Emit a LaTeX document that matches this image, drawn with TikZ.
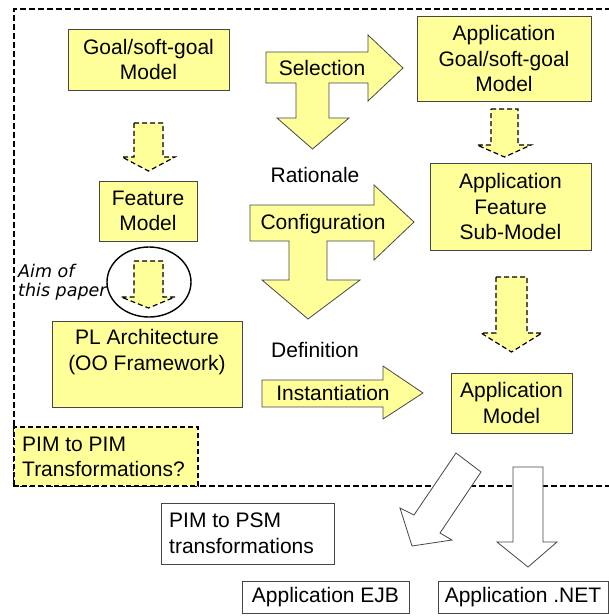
\documentclass[tikz,border=0pt]{standalone}
\usepackage{fontspec}
\setmainfont{Liberation Sans}
\newfontfamily\aimfont{DejaVu Sans}
\usetikzlibrary{shapes.geometric}
\definecolor{pale}{RGB}{255,255,153}
\definecolor{edge}{RGB}{70,70,70}
\begin{document}
\begin{tikzpicture}[x=1pt,y=-1pt, font=\fontsize{21}{25.5}\selectfont,
 ybox/.style={draw=edge, fill=pale, line width=0.9pt, inner sep=0pt, align=center},
 wbox/.style={draw=edge, fill=white, line width=0.9pt, inner sep=0pt, align=center},
 lbl/.style={inner sep=0pt, align=center},
 blockarrow/.style={draw=edge, fill=pale, line width=0.8pt, line join=miter},
 dasharrow/.style={draw=black, fill=pale, line width=1.2pt, dash pattern=on 5pt off 3pt},
 whitearrow/.style={draw=edge, fill=white, line width=0.8pt},
 framestyle/.style={draw=black, line width=1.3pt, dash pattern=on 6pt off 3pt},
 aim/.style={font=\aimfont\itshape\fontsize{17.5}{20}\selectfont, inner sep=0pt}]
\useasboundingbox (0,0) rectangle (609,616);

% outer dashed frame
\draw[framestyle] (620,486) -- (14,486) -- (14,9) -- (620,9);

% boxes
\node[ybox, minimum width=161pt, minimum height=61pt] (goal) at (148.5,59.5) {Goal/soft-goal\\Model};
\node[ybox, minimum width=98pt, minimum height=60pt] (feature) at (148,211) {Feature\\Model};
\node[ybox, minimum width=190pt, minimum height=86pt] (pl) at (147,364) {};
\node[lbl] (pltext) at (147,352) {PL Architecture\\(OO Framework)};
\node[ybox, minimum width=174pt, minimum height=85pt] (appgoal) at (504,58.5) {Application\\Goal/soft-goal\\Model};
\node[ybox, minimum width=161pt, minimum height=87pt] (appfeat) at (510.5,206.5) {Application\\Feature\\Sub-Model};
\node[ybox, minimum width=121pt, minimum height=60pt] (appmodel) at (511.5,403) {Application\\Model};
\node[ybox, dash pattern=on 5pt off 3pt, draw=black, line width=1.2pt, minimum width=184pt, minimum height=59pt] (pim) at (106,456.5) {};
\node[lbl, align=left, anchor=west] (pimtext) at (22,457) {PIM to PIM\\Transformations?};
\node[wbox, minimum width=173pt, minimum height=61pt] (psm) at (247.5,533.5) {};
\node[lbl, align=left, anchor=west] (psmtext) at (169,533.5) {PIM to PSM\\transformations};
\node[wbox, minimum width=167pt, minimum height=32pt] (ejb) at (325.5,597) {Application EJB};
\node[wbox, minimum width=170pt, minimum height=32pt] (net) at (523,597) {Application .NET};

% dashed block arrows
\draw[dasharrow] (134,123) -- (163,123) -- (163,157) -- (175,157) -- (148.5,171) -- (122,157) -- (134,157) -- cycle;
\draw[dasharrow] (134,261) -- (163,261) -- (163,297) -- (175,297) -- (148.5,308) -- (121,297) -- (134,297) -- cycle;
\draw[dasharrow] (491,109) -- (518,109) -- (518,145) -- (531,145) -- (504.5,157) -- (477,145) -- (491,145) -- cycle;
\draw[dasharrow] (496,277) -- (527,277) -- (527,333) -- (542,333) -- (511.5,352) -- (481,333) -- (496,333) -- cycle;

% aim ring and label
\node[draw=black, line width=1.4pt, ellipse, minimum width=84pt, minimum height=70pt, inner sep=0pt] (ring) at (149,282) {};
\node[aim, anchor=base west] (aim1) at (18,277) {Aim of};
\node[aim, anchor=base west] (aim2) at (18,296) {this paper};

% selection T-arrow
\draw[blockarrow] (266,52) -- (368,52) -- (368,35) -- (403,68) -- (368,101) -- (368,83) -- (329,83) -- (329,118) -- (349,118) -- (312.5,149) -- (277,118) -- (296,118) -- (296,83) -- (266,83) -- cycle;
\node[lbl] (sel) at (322,68) {Selection};

\node[lbl] (rat) at (315,175) {Rationale};

% configuration T-arrow
\draw[blockarrow] (250,205) -- (374,205) -- (374,185) -- (414,222) -- (374,260) -- (374,241) -- (327,241) -- (327,280) -- (360,280) -- (308,319) -- (262,280) -- (289,280) -- (289,241) -- (250,241) -- cycle;
\node[lbl] (conf) at (323,224) {Configuration};

\node[lbl] (def) at (315,350) {Definition};

% instantiation arrow
\draw[blockarrow] (262,380) -- (383,380) -- (383,366) -- (423,393) -- (383,419) -- (383,407) -- (262,407) -- cycle;
\node[lbl] (inst) at (333,393) {Instantiation};

% white arrows
\draw[whitearrow] (456,453) -- (481,472) -- (440,533) -- (452,540) -- (412,546) -- (400,508) -- (414,515) -- cycle;
\draw[whitearrow] (513,467) -- (543,467) -- (543,542) -- (557,542) -- (528,567) -- (497,542) -- (513,542) -- cycle;
\end{tikzpicture}
\end{document}
